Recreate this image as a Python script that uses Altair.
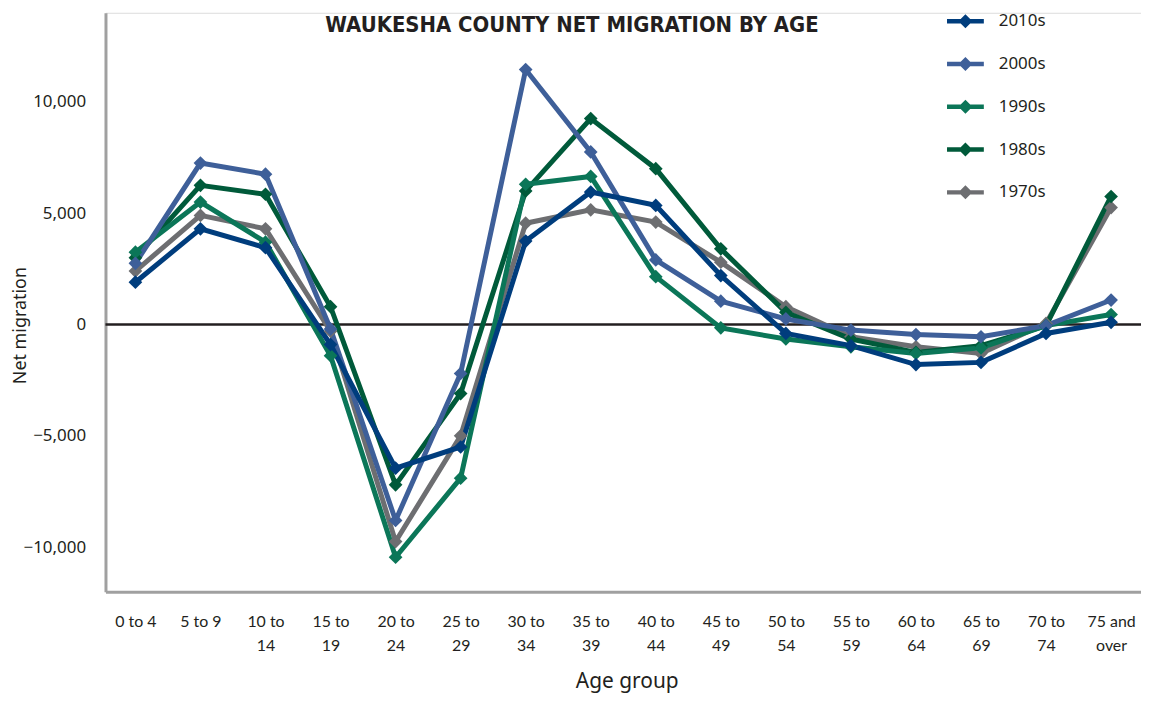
import altair as alt
import pandas as pd

ages = ["0 to 4", "5 to 9", "10 to 14", "15 to 19", "20 to 24", "25 to 29",
        "30 to 34", "35 to 39", "40 to 44", "45 to 49", "50 to 54", "55 to 59",
        "60 to 64", "65 to 69", "70 to 74", "75 and over"]

decades = ["2010s", "2000s", "1990s", "1980s", "1970s"]
colors = ["#003D7D", "#3E5F99", "#0B7658", "#005A3A", "#6D6E71"]

v2010s = [1900, 4300, 3450, -900, -6450, -5500, 3750, 5950, 5350, 2200, -400, -950, -1800, -1700, -400, 100]
v2000s = [2750, 7250, 6750, -200, -8800, -2200, 11450, 7750, 2900, 1050, 250, -250, -450, -550, -50, 1100]
v1990s = [3250, 5500, 3700, -1400, -10450, -6900, 6300, 6650, 2150, -150, -650, -1000, -1300, -1050, -50, 450]
v1980s = [3000, 6250, 5850, 800, -7200, -3100, 6000, 9250, 7000, 3400, 550, -650, -1250, -950, -50, 5750]
v1970s = [2400, 4900, 4300, -300, -9750, -5000, 4550, 5150, 4600, 2800, 800, -550, -1000, -1300, 50, 5250]

y_ticks = [-10000, -5000, 0, 5000, 10000]
title_text = "WAUKESHA COUNTY NET MIGRATION BY AGE"

series = {"2010s": v2010s, "2000s": v2000s, "1990s": v1990s, "1980s": v1980s, "1970s": v1970s}
rows = []
for d in ["1970s", "1980s", "1990s", "2000s", "2010s"]:
    for a, v in zip(ages, series[d]):
        rows.append({"decade": d, "age": a, "value": v})
df = pd.DataFrame(rows)

W, H = 1041, 582
FONT = "Noto Sans"

x_enc = alt.X(
    "age:N", sort=ages, title="Age group",
    scale=alt.Scale(type="point", padding=0.46),
    axis=alt.Axis(
        labelAngle=0, labelFontSize=16, labelFont="Lato",
        labelColor="#231F20", labelPadding=22, labelLineHeight=24,
        labelExpr="length(datum.label) > 6 ? [substring(datum.label, 0, lastindexof(datum.label, ' ')), substring(datum.label, lastindexof(datum.label, ' ') + 1)] : datum.label",
        ticks=False, tickSize=0, domainColor="#A0A0A0", domainWidth=3,
        grid=False, titleFontSize=21, titleFont=FONT, titleFontWeight="normal",
        titleColor="#231F20", titleX=524, titleY=90, titleBaseline="middle",
        titleAnchor="middle", titleAlign="center", labelOverlap=False,
    ),
)
y_enc = alt.Y(
    "value:Q", title="Net migration",
    scale=alt.Scale(domain=[-12000, 14000], nice=False, zero=False),
    axis=alt.Axis(
        values=y_ticks, format=",d", labelFontSize=17, labelFont=FONT,
        labelColor="#231F20", labelPadding=20, ticks=False, tickSize=0,
        domainColor="#A0A0A0", domainWidth=3, grid=False,
        titleFontSize=18, titleFont=FONT, titleFontWeight="normal",
        titleColor="#231F20", titleX=-85, titleY=314, titleBaseline="middle",
        titleAlign="center", titleAngle=-90,
    ),
)

legend = alt.Legend(
    title=None, orient="none", legendX=846, legendY=-10, padding=0,
    symbolType="M-1,-0.12L1,-0.12L1,0.12L-1,0.12Z M0,-0.38L0.38,0L0,0.38L-0.38,0Z",
    symbolSize=1369, symbolStrokeWidth=0, symbolOpacity=1, labelFontSize=17, labelFont=FONT,
    labelColor="#231F20", labelOffset=15, rowPadding=16,
)
color_enc = alt.Color("decade:N", scale=alt.Scale(domain=decades, range=colors), legend=legend)

base = alt.Chart(df)
lines = base.mark_line(strokeWidth=5).encode(
    x=x_enc, y=y_enc, color=color_enc,
)
points = base.mark_point(shape="diamond", filled=True, size=190, opacity=1).encode(
    x=x_enc, y=y_enc, color=color_enc,
)
zero = alt.Chart(pd.DataFrame({"z": [0]})).mark_rule(color="#231F20", strokeWidth=2.5).encode(
    y=alt.Y("z:Q", scale=alt.Scale(domain=[-12000, 14000], nice=False))
)
title = alt.Chart(pd.DataFrame({"t": [title_text]})).mark_text(
    font="DejaVu Sans Condensed", fontSize=22, fontWeight="bold", color="#231F20",
    align="center", baseline="middle",
).encode(text="t:N", x=alt.value(469), y=alt.value(12))

chart = alt.layer(zero, lines, points, title).properties(
    width=W, height=H,
    autosize=alt.AutoSizeParams(type="none"),
    padding={"left": 98, "top": 3, "right": 0, "bottom": 100},
).configure_view(stroke=None).configure(background="white")

chart.save("out.html", embed_options={"renderer": "svg", "actions": False})
